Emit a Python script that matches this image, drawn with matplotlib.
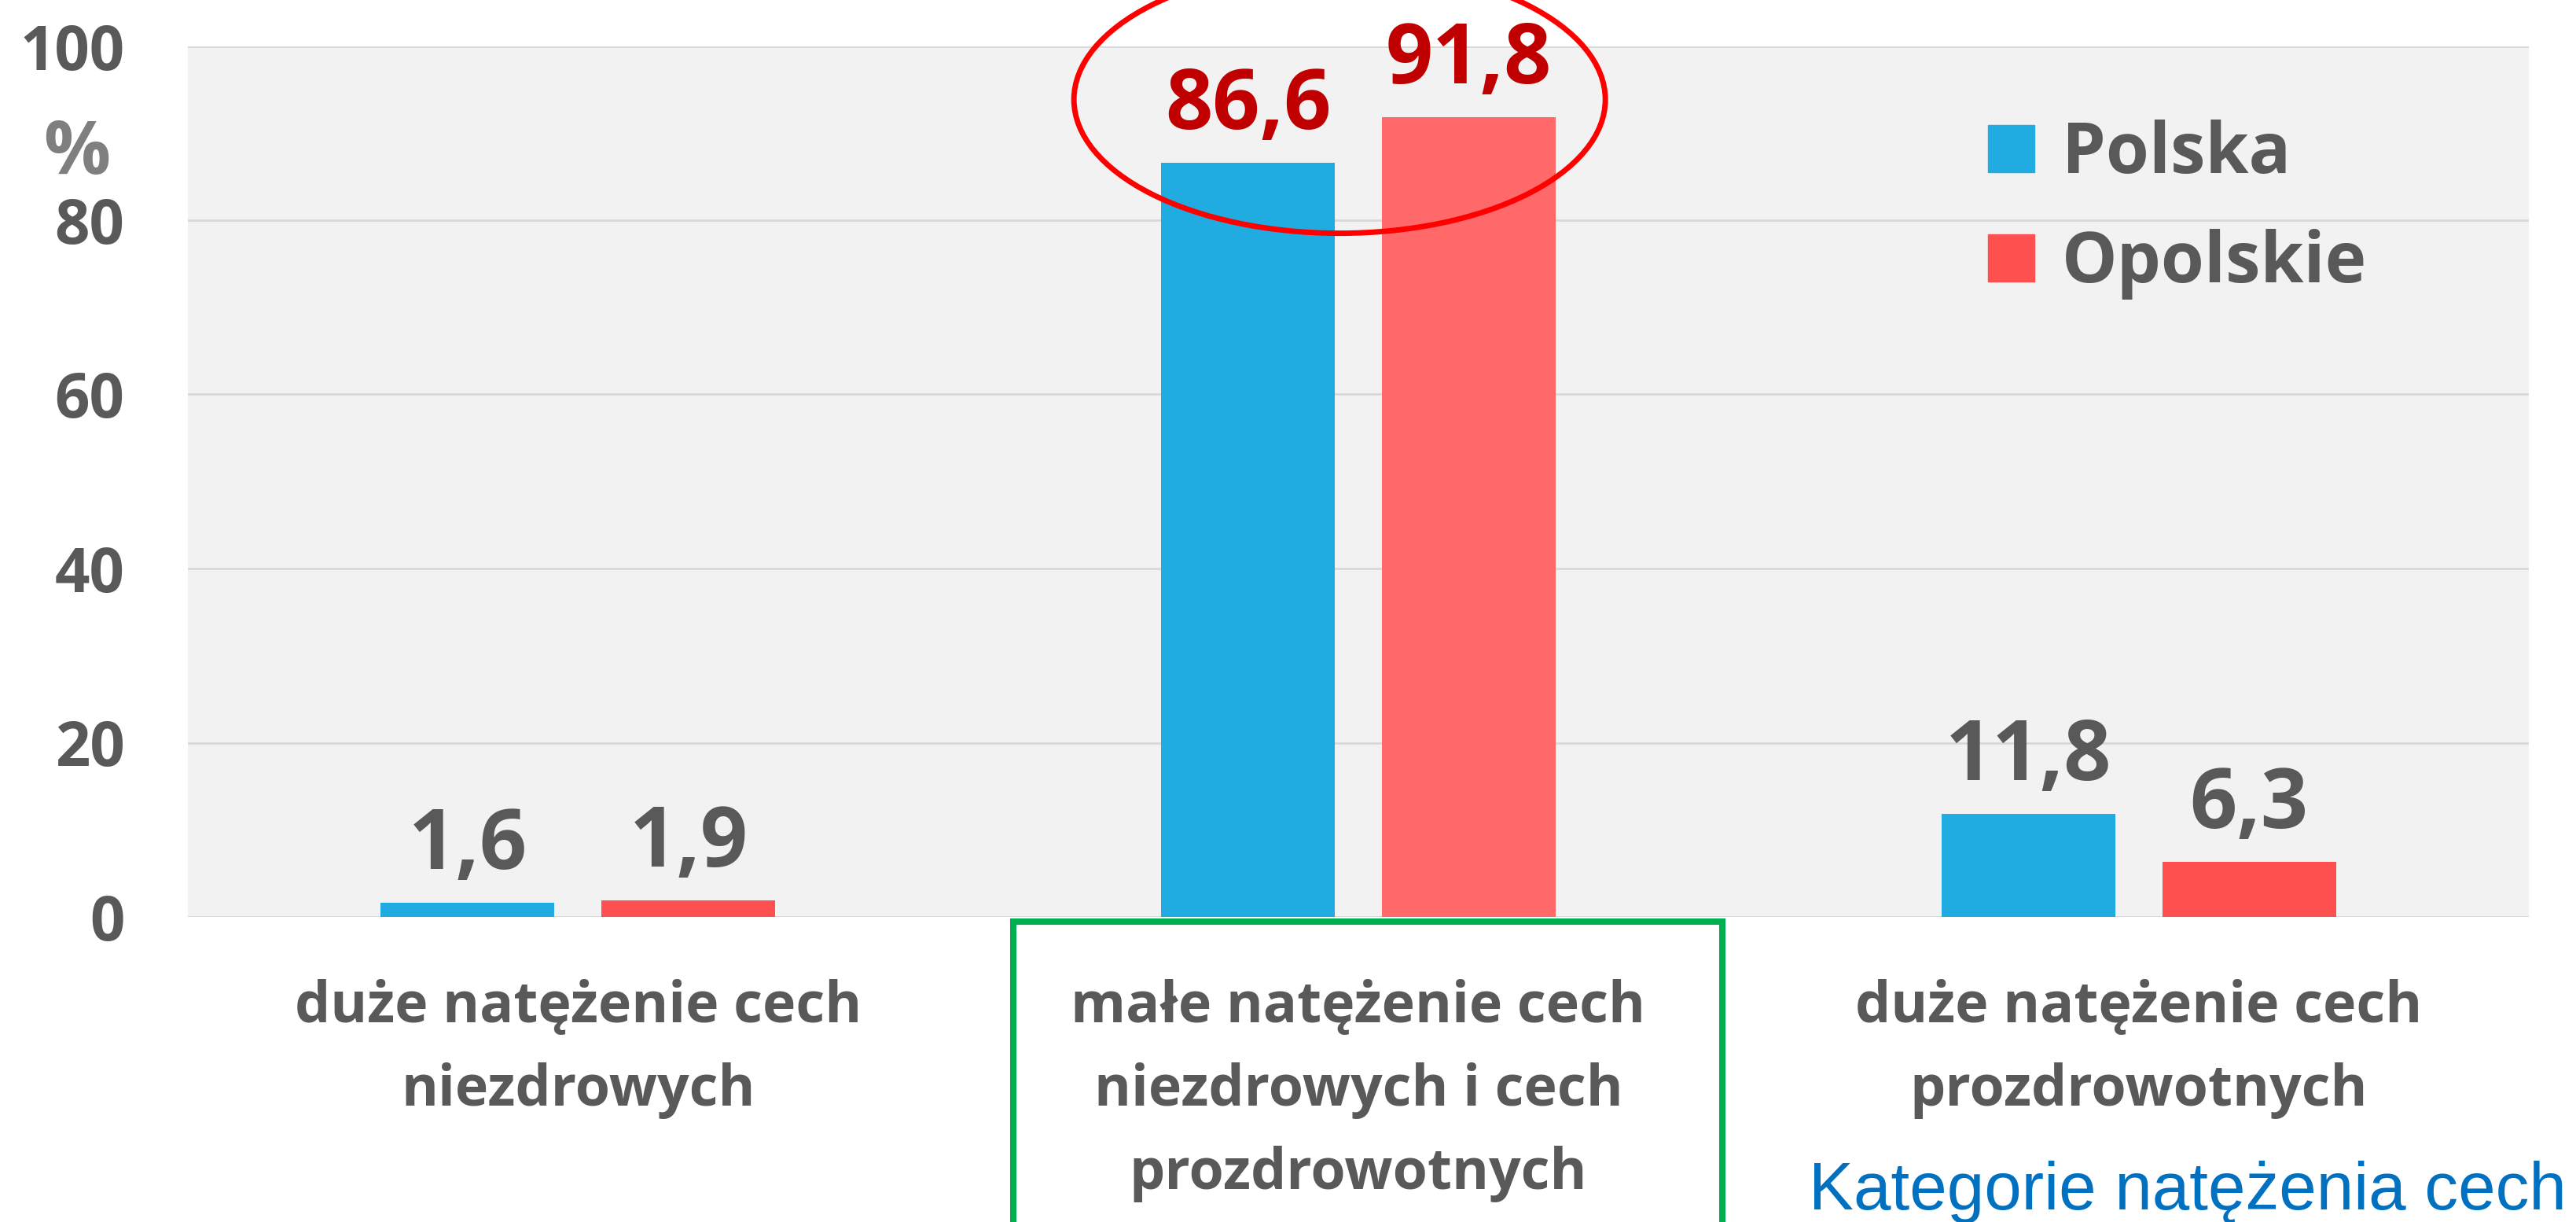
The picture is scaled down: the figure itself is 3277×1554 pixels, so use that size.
import matplotlib
matplotlib.use("Agg")
import matplotlib.pyplot as plt
import numpy as np
from matplotlib.patches import Patch, Ellipse, Rectangle

plt.rcParams['font.family'] = ['Open Sans', 'DejaVu Sans']

# data
categories = ["duże natężenie cech\nniezdrowych",
              "małe natężenie cech\nniezdrowych i cech\nprozdrowotnych",
              "duże natężenie cech\nprozdrowotnych"]
series_names = ["Polska", "Opolskie"]
polska = [1.6, 86.6, 11.8]
opolskie = [1.9, 91.8, 6.3]
y_ticks = [0, 20, 40, 60, 80, 100]

blue = '#21ACE1'
red = '#FF5050'
red_light = '#FF6969'
gray = '#595959'

W, H = 3277, 1554
fig = plt.figure(figsize=(W / 100, H / 100), dpi=100)
ax = fig.add_axes([239 / W, 1 - 1166 / H, (3217 - 239) / W, (1166 - 58.5) / H])
ax.set_facecolor('#F2F2F2')

x = np.arange(len(categories))
bw = 0.2226
off = 0.1415
red_colors = [red, red_light, red]
b1 = ax.bar(x - off, polska, bw, color=blue, zorder=3)
b2 = ax.bar(x + off, opolskie, bw, color=red_colors, zorder=3)

for bars, vals in ((b1, polska), (b2, opolskie)):
    for i, (rect, v) in enumerate(zip(bars, vals)):
        col = '#C00000' if i == 1 else gray
        ax.annotate(f"{v:.1f}".replace('.', ','),
                    (rect.get_x() + rect.get_width() / 2, v),
                    xytext=(0, 31), textcoords='offset points',
                    ha='center', va='baseline', fontsize=76,
                    fontweight='bold', color=col, zorder=5)

ax.set_xlim(-0.5, 2.5)
ax.set_ylim(0, 100)
ax.set_yticks(y_ticks)
ax.set_yticklabels([str(t) for t in y_ticks], fontsize=56, fontweight='bold', color=gray)
ax.set_xticks(x)
ax.set_xticklabels(categories, fontsize=51.5, fontweight='bold', color=gray,
                   linespacing=1.62, va='top')
ax.tick_params(axis='y', length=0, pad=58)
ax.tick_params(axis='x', length=0, pad=57)
ax.grid(axis='y', color='#D9D9D9', linewidth=2, zorder=0)
ax.set_axisbelow(True)
for s in ax.spines.values():
    s.set_visible(False)

# legend
leg = ax.legend(handles=[Patch(color=blue), Patch(color=red)], labels=series_names,
                loc='upper left', bbox_to_anchor=(2529 / W, 1 - 152 / H),
                bbox_transform=fig.transFigure, frameon=False,
                prop={'size': 64, 'weight': 'bold'}, labelcolor=gray,
                handlelength=0.66, handleheight=0.66, handletextpad=0.4,
                labelspacing=0.55, borderpad=0, borderaxespad=0)

# "%" label
fig.text(98 / W, 1 - 221 / H, '%', fontsize=68, fontweight='bold', color='#7F7F7F',
         ha='center', va='baseline')

# red ellipse around middle values
ax.add_patch(Ellipse((0.976, 93.85), 0.681, 30.7, fill=False, edgecolor='#FF0000',
                     linewidth=5, clip_on=False, zorder=6))

# green box around middle category label
fig.add_artist(Rectangle((1289 / W, -0.05), (2191 - 1289) / W, 0.05 + 1 - 1172 / H,
                         transform=fig.transFigure, fill=False, edgecolor='#00B050',
                         linewidth=5.8))

fig.text(3265 / W, 1 - 1538 / H, 'Kategorie natężenia cech', fontsize=61.5,
         family=['Liberation Sans', 'DejaVu Sans'], color='#0070C0',
         ha='right', va='baseline')

fig.savefig('out.png', dpi=100)
